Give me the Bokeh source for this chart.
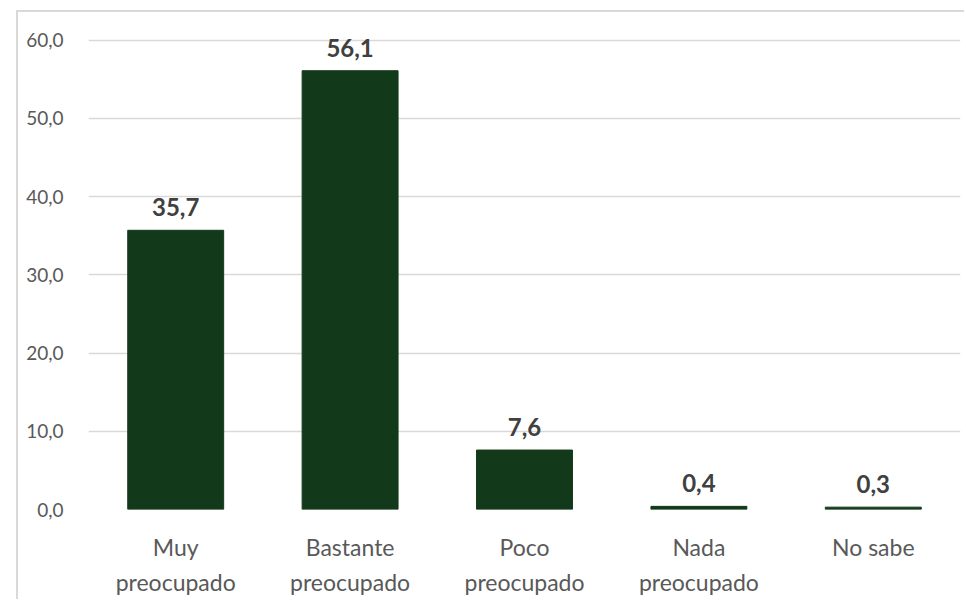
from bokeh.plotting import figure
from bokeh.models import (ColumnDataSource, SingleIntervalTicker, CustomJSTickFormatter, Range1d,
                          CategoricalAxis)
from bokeh.core.properties import value
from bokeh.embed import file_html
from bokeh.resources import INLINE

categories = ["Muy preocupado", "Bastante preocupado", "Poco preocupado", "Nada preocupado", "No sabe"]
label_line1 = ["Muy", "Bastante", "Poco", "Nada", "No sabe"]
label_line2 = ["preocupado", "preocupado", "preocupado", "preocupado", ""]
values = [35.7, 56.1, 7.6, 0.4, 0.3]
y_ticks_max = 60
y_tick_step = 10

labels = [f"{v:.1f}".replace(".", ",") for v in values]
source = ColumnDataSource(data=dict(cat=categories, val=values, lab=labels))

FONT = "Lato"
GREY = "#595959"
p = figure(x_range=categories, y_range=Range1d(0, y_ticks_max + 1.5),
           width=948, height=589, output_backend="svg", toolbar_location=None,
           min_border_left=70, min_border_top=16, min_border_right=6, min_border_bottom=92,
           x_axis_location=None)
# outer chart frame: only its left and top edges fall inside the picture
p.styles = {"margin-left": "16px", "margin-top": "10px",
            "border-left": "2px solid #d9d9d9", "border-top": "2px solid #d9d9d9"}
p.outline_line_color = None
p.background_fill_color = "white"
p.border_fill_color = "white"

p.vbar(x="cat", top="val", width=0.55, source=source, color="#12391a")
p.text(x="cat", y="val", text="lab", source=source, text_align="center", text_baseline="middle",
       y_offset=-23, text_font=value(FONT), text_font_style="bold", text_font_size="24px",
       text_color="#404040")

p.xgrid.grid_line_color = None
p.ygrid.grid_line_color = "#d9d9d9"
p.ygrid.grid_line_width = 1.3
p.yaxis.ticker = SingleIntervalTicker(interval=y_tick_step)
p.yaxis.formatter = CustomJSTickFormatter(code="return tick.toFixed(1).replace('.', ',');")
p.yaxis.axis_line_color = None
p.yaxis.major_tick_line_color = None
p.yaxis.minor_tick_line_color = None
p.yaxis.major_label_standoff = 19
p.yaxis.major_label_text_font = FONT
p.yaxis.major_label_text_font_size = "19px"
p.yaxis.major_label_text_color = GREY

for lines, standoff in ((label_line1, 17), (label_line2, -2)):
    fmt = CustomJSTickFormatter(args=dict(m=dict(zip(categories, lines))),
                                code="return m.get ? m.get(tick) : m[tick];")
    ax = CategoricalAxis(axis_line_color=None, major_tick_line_color=None,
                         major_label_standoff=standoff, major_label_text_font=FONT,
                         major_label_text_font_size="23px", major_label_text_color=GREY,
                         formatter=fmt)
    p.add_layout(ax, "below")

open("out.html", "w").write(file_html(p, INLINE))
